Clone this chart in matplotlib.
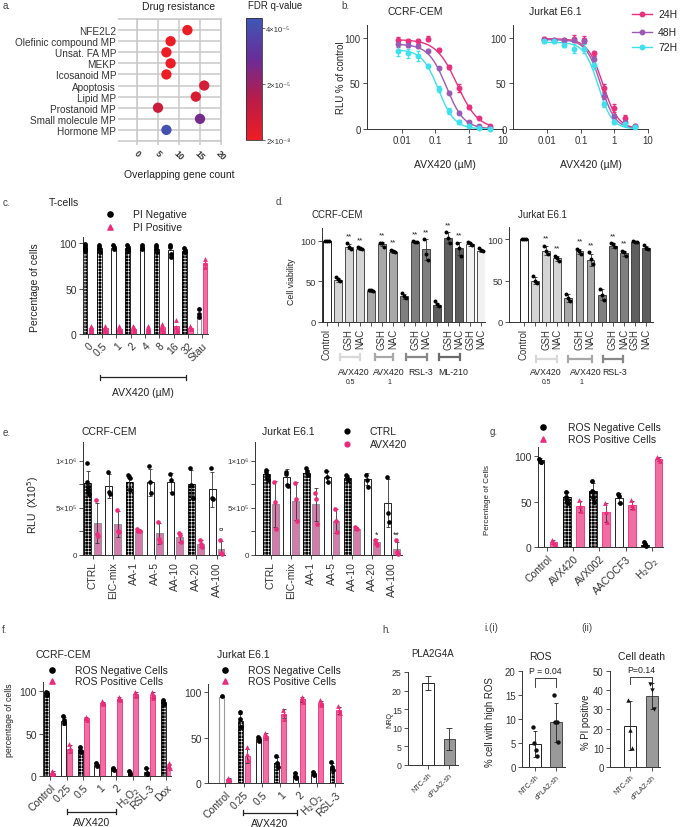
import numpy as np
import matplotlib
matplotlib.use('Agg')
import matplotlib.pyplot as plt
from matplotlib.colors import LinearSegmentedColormap, Normalize
from matplotlib.cm import ScalarMappable

plt.rcParams['font.family'] = ['Liberation Sans', 'DejaVu Sans']
plt.rcParams['hatch.linewidth'] = 0.4
plt.rcParams['axes.linewidth'] = 0.7
plt.rcParams['axes.edgecolor'] = '#333333'
plt.rcParams['xtick.color'] = '#333333'
plt.rcParams['ytick.color'] = '#333333'
plt.rcParams['text.color'] = '#222222'

PINK = '#ee2a7b'
PINK_FILL = '#ef6fa3'
MAUVE = '#d57bab'
FS = 1.15  # font scale

# ---------------- data ----------------
# a. enrichment
a_terms = ['NFE2L2', 'Olefinic compound MP', 'Unsat. FA MP', 'MEKP', 'Icosanoid MP',
           'Apoptosis', 'Lipid MP', 'Prostanoid MP', 'Small molecule MP', 'Hormone MP']
a_counts = [12, 8, 7, 8, 7, 16, 14, 5, 15, 7]
a_fdr = [2e-7, 3e-7, 3e-7, 3e-7, 3e-7, 7e-6, 6e-6, 9.5e-6, 2.7e-5, 4.1e-5]

# b. dose response
b_conc = [0.0078125, 0.015625, 0.03125, 0.0625, 0.125, 0.25, 0.5, 1, 2, 4]
b_series = ['24H', '48H', '72H']
b_colors = ['#e8307e', '#9b5bb5', '#3fe0ee']
b_cem = [[98, 97, 96, 99, 87, 68, 45, 24, 12, 3],
         [93, 92, 91, 86, 67, 40, 18, 8, 3, 1],
         [86, 83, 80, 69, 44, 19.5, 8, 3.7, 1, 0]]
b_cem_sd = [[3, 2, 3, 3, 2, 2, 4, 2, 1, 1],
            [3, 2, 2, 2, 1, 2, 2, 1, 1, 1],
            [6, 5, 6, 2, 3, 3, 2, 1, 1, 1]]
b_jur = [[99, 98, 98, 99, 98, 83, 45, 23, 12, 3.5],
         [98, 98, 98, 98, 97, 77, 36, 14, 8, 3],
         [96, 96, 92, 88, 88, 70, 27, 8, 5, 2]]
b_jur_sd = [[2, 1, 1, 4, 4, 3, 4, 4, 3, 1],
            [1, 1, 1, 2, 3, 3, 3, 2, 2, 1],
            [2, 2, 2, 5, 5, 4, 3, 2, 1, 1]]
# fitted 4PL parameters (top, IC50, hill)
b_cem_fit = [(98, 0.44, 1.4), (93, 0.21, 1.65), (87, 0.123, 1.8)]
b_jur_fit = [(99, 0.45, 1.9), (98, 0.39, 2.0), (95, 0.33, 2.1)]

# c. PI staining
c_labels = ['0', '0.5', '1', '2', '4', '8', '16', '32', 'Stau']
c_neg = [95, 94, 94, 94, 94, 93, 92, 91, 20]
c_pos = [7, 7, 6, 6, 6, 8, 9, 7, 78]
c_neg_pts = [[99, 97, 95, 93, 91], [98, 96, 93, 90], [98, 96, 93], [98, 96, 93, 91], [98, 96, 93],
             [98, 96, 93, 90], [98, 96, 88, 85], [94, 92, 90], [27, 22, 19]]
c_pos_pts = [[9, 7, 5, 3], [9, 7, 4, 3], [9, 6, 4, 3], [9, 7, 5, 3], [9, 6, 3],
             [11, 8, 5, 3], [15, 8, 5, 3], [9, 7, 5], [82, 78, 74]]
c_style = ['black', 'black', 'white', 'black', 'white', 'black', 'white', 'black', 'gray']

# d. rescue
d_cem_labels = ['Control', '', 'GSH', 'NAC', '', 'GSH', 'NAC', '', 'GSH', 'NAC', '', 'GSH', 'NAC', 'GSH', 'NAC']
d_cem = [100, 52, 93, 90, 38, 96, 87, 32, 99, 90, 21, 104, 91, 96, 88]
d_cem_pts = [[100, 100, 100], [56, 53, 51], [97, 93, 90], [92, 91, 90], [40, 39, 38], [98, 97, 93],
             [89, 88, 86], [36, 32, 30], [100, 99, 99], [102, 84, 77], [26, 22, 20], [111, 104, 98],
             [98, 91, 82], [99, 97, 95], [91, 89, 88]]
d_cem_col = ['white', '#d4d4d4', '#d4d4d4', '#d4d4d4', '#a8a8a8', '#a8a8a8', '#a8a8a8',
             '#7f7f7f', '#7f7f7f', '#7f7f7f', '#5e5e5e', '#5e5e5e', '#5e5e5e', '#f2f2f2', '#f2f2f2']
d_cem_star = [2, 3, 5, 6, 8, 9, 11, 12]
d_jur_labels = ['Control', '', 'GSH', 'NAC', '', 'GSH', 'NAC', '', 'GSH', 'NAC', 'GSH', 'NAC']
d_jur = [100, 50, 86, 77, 29, 85, 75, 33, 92, 83, 97, 89]
d_jur_pts = [[100, 100, 100], [55, 50, 47], [92, 85, 82], [80, 77, 74], [34, 29, 25], [88, 86, 82],
             [84, 76, 70], [40, 33, 27], [95, 94, 90], [86, 84, 80], [98, 97, 97], [93, 89, 88]]
d_jur_col = ['white', '#d4d4d4', '#d4d4d4', '#d4d4d4', '#a8a8a8', '#a8a8a8', '#a8a8a8',
             '#7f7f7f', '#7f7f7f', '#7f7f7f', '#5e5e5e', '#5e5e5e']
d_jur_star = [2, 3, 5, 6, 8, 9]

# e. RLU with AA
e_labels = ['CTRL', 'EIC-mix', 'AA-1', 'AA-5', 'AA-10', 'AA-20', 'AA-100']
e_cem_ctrl = [7.6e5, 7.3e5, 7.8e5, 7.7e5, 7.7e5, 7.5e5, 7.0e5]
e_cem_avx = [3.4e5, 3.3e5, 2.6e5, 2.3e5, 1.9e5, 1.2e5, 0.6e5]
e_cem_ctrl_pts = [[9.8e5, 7.8e5, 7.2e5, 6.8e5, 6.5e5], [8.8e5, 6.7e5, 6.5e5], [8.5e5, 8.3e5, 8.2e5, 6.9e5],
                  [9.4e5, 7.8e5, 6.6e5], [8.6e5, 8.0e5, 6.6e5], [9.2e5, 7.4e5, 6.1e5], [9.2e5, 6.1e5, 5.9e5]]
e_cem_avx_pts = [[5.8e5, 2.2e5, 2.0e5], [4.8e5, 2.5e5, 2.4e5], [2.8e5, 2.6e5, 2.5e5], [3.5e5, 1.7e5, 1.4e5],
                 [2.3e5, 2.1e5, 1.4e5], [1.6e5, 1.2e5, 0.9e5], [1.6e5, 0.2e5, 0.1e5]]
e_cem_style = ['black', 'white', 'black', 'white', 'white', 'black', 'white']
e_jur_ctrl = [8.6e5, 8.3e5, 8.7e5, 8.3e5, 8.2e5, 8.1e5, 5.5e5]
e_jur_avx = [5.4e5, 5.7e5, 5.4e5, 3.6e5, 2.8e5, 1.4e5, 0.6e5]
e_jur_ctrl_pts = [[9.0e5, 8.8e5, 8.5e5, 8.2e5, 8.0e5], [8.8e5, 8.6e5, 7.4e5, 7.3e5], [9.2e5, 8.9e5, 8.7e5, 8.5e5],
                  [8.9e5, 8.3e5, 7.7e5], [8.5e5, 8.3e5, 8.0e5], [8.5e5, 8.0e5, 7.2e5], [8.3e5, 4.5e5, 3.5e5]]
e_jur_avx_pts = [[7.7e5, 5.6e5, 2.8e5], [7.6e5, 5.9e5, 3.6e5], [6.6e5, 6.0e5, 3.3e5], [4.9e5, 3.6e5, 2.4e5],
                 [3.0e5, 2.8e5], [1.6e5, 1.3e5, 1.1e5], [1.6e5, 0.3e5, 0.1e5]]
e_jur_style = ['black', 'white', 'black', 'white', 'black', 'white', 'white']

# f. ROS with AVX420
f_cem_labels = ['Control', '0.25', '0.5', '1', '2', 'H$_2$O$_2$', 'RSL-3', 'Dox']
f_cem_neg = [98, 65, 31, 13, 8, 4, 5, 87]
f_cem_pos = [4, 32, 68, 86, 91, 96, 95, 12]
f_cem_neg_pts = [[99, 98, 97, 95], [71, 66, 62], [34, 31, 28], [15, 13, 12], [10, 8, 7], [6, 4, 2], [10, 4, 2], [89, 87, 85]]
f_cem_pos_pts = [[6, 4, 2], [38, 33, 29], [70, 68, 66], [88, 86, 85], [93, 91, 90], [99, 96, 94], [99, 95, 92], [15, 12, 10]]
f_cem_style = ['black', 'white', 'black', 'white', 'white', 'white', 'white', 'black']
f_jur_labels = ['Control', '0.25', '0.5', '1', '2', 'H$_2$O$_2$', 'RSL-3']
f_jur_neg = [95, 68, 48, 22, 8, 10, 17]
f_jur_pos = [4, 30, 52, 76, 92, 88, 80]
f_jur_neg_pts = [[96], [78, 70, 62], [51, 48, 46], [30, 22, 18], [11, 8, 6], [12, 10, 9], [23, 18, 14]]
f_jur_pos_pts = [[5, 3], [40, 32, 25], [55, 52, 49], [80, 76, 70], [95, 92, 89], [91, 88, 86], [85, 80, 77]]
f_jur_style = ['gray', 'black', 'white', 'black', 'white', 'white', 'black']

# g. ROS with inhibitors
g_labels = ['Control', 'AVX420', 'AVX002', 'AACOCF3', 'H$_2$O$_2$']
g_neg = [96, 55, 62, 54, 2]
g_pos = [5, 45, 38, 46, 97]
g_neg_pts = [[97, 95, 94, 93], [61, 55, 52, 50, 48], [73, 62, 60, 55, 50], [58, 56, 48], [5, 3, 1]]
g_pos_pts = [[8, 6, 4, 3], [52, 45, 40], [48, 38, 27], [52, 46, 43], [99, 97, 95]]
g_style = ['white', 'black', 'black', 'white', 'black']

# h / i. knockdown
hi_labels = ['NTC-sh', 'cPLA2-sh']
h_nrq = [22, 7]
h_sd = [1.8, 3.0]
i_ros = [4.8, 9.3]
i_ros_pts = [[8.3, 5.0, 3.6, 2.2], [15, 9.3, 9.3, 5.2]]
i_death = [21.5, 37]
i_death_pts = [[35, 19.5, 10], [43, 40, 30]]

# ---------------- figure ----------------
W, H = 685, 828
fig = plt.figure(figsize=(W / 100, H / 100), dpi=100)


def px_ax(x0, y0, x1, y1, **kw):
    return fig.add_axes([x0 / W, 1 - y1 / H, (x1 - x0) / W, (y1 - y0) / H], **kw)


def style(ax, size=6):
    ax.spines['top'].set_visible(False)
    ax.spines['right'].set_visible(False)
    ax.tick_params(length=3, width=0.6, labelsize=size * FS, pad=1.5)
    ax.patch.set_alpha(0)


def bar(ax, x, h, w, kind):
    if kind == 'black':
        ax.bar(x, h, w, color='black', edgecolor='white', hatch='+++++', linewidth=0, zorder=2)
        ax.bar(x, h, w, fill=False, edgecolor='black', linewidth=0.6, zorder=2)
    elif kind == 'white':
        ax.bar(x, h, w, color='white', edgecolor='#222222', linewidth=0.7, zorder=2)
    elif kind == 'gray':
        ax.bar(x, h, w, color='white', edgecolor='#9a9a9a', linewidth=0.8, zorder=2)
    elif kind == 'pink':
        ax.bar(x, h, w, color=PINK_FILL, edgecolor=PINK, linewidth=0.6, zorder=2)
    elif kind == 'mauve':
        ax.bar(x, h, w, color=MAUVE, edgecolor='#8a8a8a', linewidth=0.6, zorder=2)
    else:
        ax.bar(x, h, w, color=kind, edgecolor='#333333', linewidth=0.6, zorder=2)


def dots(ax, x, vals, color, marker='o', spread=0.05, s=10):
    n = len(vals)
    off = np.linspace(-spread, spread, n) if n > 1 else np.zeros(1)
    ax.scatter(x + off, vals, s=s, color=color, marker=marker, zorder=4, clip_on=False, linewidths=0)


def err(ax, x, h, vals, color='#333333'):
    sd = np.std(vals, ddof=1) if len(vals) > 1 else 0
    ax.errorbar([x], [h], yerr=[sd], fmt='none', ecolor=color, elinewidth=0.6,
                capsize=1.5, capthick=0.6, zorder=3)


def xlabels(ax, labels, size, rot):
    if rot == 90:
        ax.set_xticklabels(labels, rotation=90, fontsize=size * FS)
    else:
        ax.set_xticklabels(labels, rotation=rot, ha='right', rotation_mode='anchor', fontsize=size * FS)


ov = fig.add_axes([0, 0, 1, 1], zorder=20)
ov.set_xlim(0, W)
ov.set_ylim(H, 0)
ov.axis('off')
ov.patch.set_alpha(0)


def T(x, y, s, size=6.5, ha='center', va='center', **kw):
    ov.text(x, y, s, fontsize=size * FS, ha=ha, va=va, **kw)


def bracket(x0, x1, y, color='#222222', lw=1.0, cap=3):
    ov.plot([x0, x1], [y, y], color=color, lw=lw, solid_capstyle='butt')
    ov.plot([x0, x0], [y - cap, y + cap], color=color, lw=lw)
    ov.plot([x1, x1], [y - cap, y + cap], color=color, lw=lw)


# panel labels
for lab, x, y in [('a.', 3, 6), ('b.', 341, 6), ('c.', 3, 203), ('d.', 276, 202), ('e.', 3, 433),
                  ('g.', 490, 432), ('f.', 2, 630), ('h.', 382, 630), ('i.(i)', 484, 628), ('(ii)', 581, 628)]:
    T(x, y, lab, size=6.2, ha='left', color='#444444')

# ---- a ----
cmap = LinearSegmentedColormap.from_list('fdr', ['#ee1d25', '#b81c48', '#6a2c98', '#3d58b6'])
norm = Normalize(vmin=2e-8, vmax=4.36e-5)
ax = px_ax(137, 20, 221, 142)
ya = np.arange(len(a_terms))
ax.scatter(a_counts, ya, s=55, c=a_fdr, cmap=cmap, norm=norm, zorder=3, linewidths=0, clip_on=False)
ax.set_xlim(0, 20)
ax.set_ylim(10, -1)
ax.set_yticks(np.arange(-1, 11))
ax.set_yticklabels([''] + a_terms + [''], fontsize=6.3 * FS)
ax.set_xticks([0, 5, 10, 15, 20])
ax.set_xticklabels(['0', '5', '10', '15', '20'], rotation=-45, fontsize=5.5 * FS, fontweight='bold')
ax.grid(True, color='#c9c9c9', lw=1.1)
ax.set_axisbelow(True)
for sp in ax.spines.values():
    sp.set_color('#c9c9c9')
    sp.set_linewidth(1.1)
ax.tick_params(axis='y', length=14, width=1.1, color='#c9c9c9', pad=1)
ax.tick_params(axis='x', length=3, width=1.1, color='#c9c9c9', pad=2)
T(179, 7, 'Drug resistance', size=6.5)
T(179, 175, 'Overlapping gene count', size=6.5)

cax = px_ax(246, 19, 262, 141)
cb = fig.colorbar(ScalarMappable(norm=norm, cmap=cmap), cax=cax)
cb.set_ticks([2e-8, 2e-5, 4e-5])
cb.set_ticklabels(['2×10⁻⁸', '2×10⁻⁵', '4×10⁻⁵'])
cb.ax.tick_params(labelsize=4.8 * FS, length=2, width=0.5, pad=1)
cb.outline.set_linewidth(0.6)
T(275, 6, 'FDR q-value', size=6)

# ---- b ----
xfit = np.logspace(np.log10(b_conc[0]), np.log10(b_conc[-1]), 200)
for (x0, x1), vals, sds, fits, title, tx, lx in [((367, 503), b_cem, b_cem_sd, b_cem_fit, 'CCRF-CEM', 415, 445),
                                                  ((513, 648), b_jur, b_jur_sd, b_jur_fit, 'Jurkat E6.1', 555, 591)]:
    ax = px_ax(x0, 26, x1, 130)
    style(ax, 6.0)
    for k in range(3):
        top, ic, hill = fits[k]
        ax.plot(xfit, top / (1 + (xfit / ic) ** hill), color=b_colors[k], lw=1.0, zorder=2)
        ax.errorbar(b_conc, vals[k], yerr=sds[k], fmt='o', color=b_colors[k], ms=3.2,
                    elinewidth=0.8, capsize=1.5, zorder=3, clip_on=False)
    ax.set_xscale('log')
    ax.set_xlim(10 ** -3.02, 10)
    ax.set_ylim(0, 114)
    ax.set_yticks([0, 50, 100])
    ax.set_xticks([0.01, 0.1, 1, 10])
    ax.set_xticklabels(['0.01', '0.1', '1', '10'])
    ax.xaxis.set_minor_locator(matplotlib.ticker.NullLocator())
    T(tx, 12, title, size=6.5)
    T(lx, 165, 'AVX420 (µM)', size=6.5)
T(341, 78, 'RLU % of control', size=6.0, rotation=90)
for k, y in enumerate([15, 33, 48]):
    ov.plot([632, 652], [y, y], color=b_colors[k], lw=1.0)
    ov.plot([642], [y], 'o', color=b_colors[k], ms=3.2)
    T(658, y, b_series[k], size=6.5, ha='left')

# ---- c ----
ax = px_ax(83, 238, 208, 335)
style(ax, 6.5)
xc = np.arange(len(c_labels))
for i in xc:
    bar(ax, i - 0.21, c_neg[i], 0.32, c_style[i])
    bar(ax, i + 0.21, c_pos[i], 0.32, 'pink')
    dots(ax, i - 0.21, c_neg_pts[i], 'black', 'o', 0.03, 12)
    dots(ax, i + 0.21, c_pos_pts[i], PINK, '^', 0.03, 12)
ax.set_xlim(-0.35, 8.42)
ax.set_ylim(0, 106.6)
ax.set_yticks([0, 50, 100])
ax.set_xticks(xc)
xlabels(ax, c_labels, 6.5, 45)
T(35, 288, 'Percentage of cells', size=6.5, rotation=90)
T(64, 203, 'T-cells', size=6.5)
ov.scatter([110], [215], s=14, color='black', marker='o')
ov.scatter([110], [228], s=14, color=PINK, marker='^')
T(133, 215, 'PI Negative', size=6.5, ha='left')
T(133, 228, 'PI Positive', size=6.5, ha='left')
bracket(100, 186, 378, lw=0.9, cap=2.5)
T(143, 393, 'AVX420 (µM)', size=6.5)

# ---- d ----
for (x0, y0, x1), (xa, xb), labels, vals, pts, cols, stars, title, tx in [
        ((322, 229, 485), (-0.45, 14.36), d_cem_labels, d_cem, d_cem_pts, d_cem_col, d_cem_star, 'CCRF-CEM', 337),
        ((509, 228, 653), (-1.35, 11.63), d_jur_labels, d_jur, d_jur_pts, d_jur_col, d_jur_star, 'Jurkat E6.1', 542)]:
    ax = px_ax(x0, y0, x1, 323)
    style(ax, 5.8)
    xd = np.arange(len(vals))
    for i in xd:
        bar(ax, i, vals[i], 0.7, cols[i])
        err(ax, i, vals[i], pts[i])
        dots(ax, i, pts[i], 'black', 'o', 0.18, 8)
    for i in stars:
        ax.text(i, max(pts[i]) + 5, '**', ha='center', va='bottom', fontsize=5 * FS)
    ax.set_xlim(xa, xb)
    ax.set_ylim(0, 116 if x0 == 322 else 114.5)
    ax.set_yticks([0, 50, 100])
    ax.set_xticks(xd)
    xlabels(ax, labels, 6, 90)
    T(tx, 215, title, size=6)
T(292, 282, 'Cell viability', size=5.5, rotation=90)
for x0, x1, c in [(340, 360, '#d8d8d8'), (375, 393, '#a8a8a8'), (406, 427, '#888888'), (439, 460, '#6a6a6a')]:
    bracket(x0, x1, 358, color=c, lw=1.6, cap=3)
for x0, x1, c in [(536, 557, '#d8d8d8'), (568, 592, '#a8a8a8'), (603, 623, '#888888')]:
    bracket(x0, x1, 360, color=c, lw=1.6, cap=3)
for x, s in [(354, 'AVX420'), (389, 'AVX420'), (421, 'RSL-3'), (453, 'ML-210'),
             (546, 'AVX420'), (586, 'AVX420'), (615, 'RSL-3')]:
    T(x, 373, s, size=5.5)
for x, s in [(350, '0.5'), (389, '1'), (546, '0.5'), (581, '1')]:
    T(x, 383, s, size=4.3)

# ---- e ----
for (x0, x1), (xa, xb), ctrl, avx, cpts, apts, sty, title, tx in [
        ((83, 225), (-0.46, 6.4), e_cem_ctrl, e_cem_avx, e_cem_ctrl_pts, e_cem_avx_pts, e_cem_style, 'CCRF-CEM', 109),
        ((255, 402), (-0.79, 6.49), e_jur_ctrl, e_jur_avx, e_jur_ctrl_pts, e_jur_avx_pts, e_jur_style, 'Jurkat E6.1', 288)]:
    ax = px_ax(x0, 443, x1, 556)
    style(ax, 6.5)
    xe = np.arange(len(e_labels))
    for i in xe:
        bar(ax, i - 0.22, ctrl[i], 0.34, sty[i])
        bar(ax, i + 0.22, avx[i], 0.34, 'mauve')
        err(ax, i - 0.22, ctrl[i], cpts[i])
        err(ax, i + 0.22, avx[i], apts[i])
        dots(ax, i - 0.22, cpts[i], 'black', 'o', 0.05, 11)
        dots(ax, i + 0.22, apts[i], PINK, 'o', 0.05, 11)
    ax.set_xlim(xa, xb)
    ax.set_ylim(0, 1.2e6)
    ax.set_yticks([0, 2.5e5, 5e5, 7.5e5, 1e6])
    ax.set_yticklabels(['0', '', '5×10⁵', '', '1×10⁶'], fontsize=5 * FS)
    ax.set_xticks(xe)
    xlabels(ax, e_labels, 6.5, 90)
    T(tx, 432, title, size=6.5)
    if x0 == 83:
        ax.text(6.22, 2.45e5, '¤', ha='center', va='bottom', fontsize=5 * FS)
    else:
        ax.text(5.22, 1.75e5, '*', ha='center', va='bottom', fontsize=5.5 * FS)
        ax.text(6.22, 1.75e5, '**', ha='center', va='bottom', fontsize=5.5 * FS)
T(33, 505, 'RLU  (X10$^5$)', size=6.5, rotation=90)
ov.scatter([347], [432], s=12, color='black')
ov.scatter([347], [445], s=12, color=PINK)
T(370, 432, 'CTRL', size=6.5, ha='left')
T(370, 445, 'AVX420', size=6.5, ha='left')

# ---- g ----
ax = px_ax(538, 448, 663, 548)
style(ax, 6.5)
xg = np.arange(len(g_labels))
for i in xg:
    bar(ax, i - 0.25, g_neg[i], 0.3, g_style[i])
    bar(ax, i + 0.25, g_pos[i], 0.3, 'pink')
    err(ax, i - 0.25, g_neg[i], g_neg_pts[i])
    err(ax, i + 0.25, g_pos[i], g_pos_pts[i])
    dots(ax, i - 0.25, g_neg_pts[i], 'black', 'o', 0.04, 12)
    dots(ax, i + 0.25, g_pos_pts[i], PINK, '^', 0.04, 12)
ax.set_xlim(-0.34, 4.42)
ax.set_ylim(0, 110)
ax.set_yticks([0, 50, 100])
ax.set_xticks(xg)
xlabels(ax, g_labels, 6.5, 45)
T(488, 500, 'Percentage of Cells', size=5, rotation=90)
ov.scatter([543], [428], s=14, color='black')
ov.scatter([543], [440], s=14, color=PINK, marker='^')
T(568, 428, 'ROS Negative Cells', size=6.5, ha='left')
T(568, 440, 'ROS Positive Cells', size=6.5, ha='left')

# ---- f ----
for (x0, y0, x1, y1), (xa, xb), ylim, labels, neg, pos, npts, ppts, sty, off, w, title, tx, lgx in [
        ((43, 683, 171, 777), (-0.42, 7.29), 110.6, f_cem_labels, f_cem_neg, f_cem_pos, f_cem_neg_pts,
         f_cem_pos_pts, f_cem_style, 0.18, 0.3, 'CCRF-CEM', 63, 52),
        ((208, 685, 343, 784), (-0.95, 6.41), 108.8, f_jur_labels, f_jur_neg, f_jur_pos, f_jur_neg_pts,
         f_jur_pos_pts, f_jur_style, 0.19, 0.27, 'Jurkat E6.1', 243, 225)]:
    ax = px_ax(x0, y0, x1, y1)
    style(ax, 6.5)
    xf = np.arange(len(labels))
    for i in xf:
        bar(ax, i - off, neg[i], w, sty[i])
        bar(ax, i + off, pos[i], w, 'pink')
        err(ax, i - off, neg[i], npts[i])
        err(ax, i + off, pos[i], ppts[i])
        dots(ax, i - off, npts[i], 'black', 'o', 0.03, 12)
        dots(ax, i + off, ppts[i], PINK, '^', 0.03, 12)
    ax.set_xlim(xa, xb)
    ax.set_ylim(0, ylim)
    ax.set_yticks([0, 50, 100])
    ax.set_xticks(xf)
    xlabels(ax, labels, 6.5, 45)
    T(tx, 655, title, size=6.5)
    ov.scatter([lgx], [671], s=14, color='black')
    ov.scatter([lgx], [682], s=14, color=PINK, marker='^')
    T(lgx + 23, 671, 'ROS Negative Cells', size=6.5, ha='left')
    T(lgx + 23, 682, 'ROS Positive Cells', size=6.5, ha='left')
T(10, 720, 'percentage of cells', size=5.5, rotation=90)
bracket(67, 116, 813, lw=0.9, cap=2.5)
T(92, 823, 'AVX420', size=6.5)
bracket(243, 297, 814, lw=0.9, cap=2.5)
T(270, 824, 'AVX420', size=6.5)

# ---- h ----
ax = px_ax(408, 673, 458, 766)
style(ax, 5.5)
xh = np.arange(2)
bar(ax, 0, h_nrq[0], 0.55, 'white')
bar(ax, 1, h_nrq[1], 0.55, '#9a9a9a')
ax.errorbar(xh, h_nrq, yerr=h_sd, fmt='none', ecolor='#222222', elinewidth=0.6, capsize=2, capthick=0.6, zorder=3)
ax.set_xlim(-0.95, 1.4)
ax.set_ylim(0, 25)
ax.set_yticks([0, 5, 10, 15, 20, 25])
ax.set_xticks(xh)
xlabels(ax, hi_labels, 4.5, 45)
T(433, 654, 'PLA2G4A', size=6)
T(390, 720, 'NRQ', size=4.5, rotation=90)

# ---- i ----
for (x0, x1), (xa, xb), vals, pts, ymax, yt, mk, title, tx, ylab, ylx, ptxt, btop, bend in [
        ((522, 565), (-0.62, 1.43), i_ros, i_ros_pts, 20, [0, 5, 10, 15, 20], ['o', 'o'], 'ROS', 540,
         '% cell with high ROS', 490, 'P = 0.04', 18.5, 16.7),
        ((610, 660), (-0.91, 1.36), i_death, i_death_pts, 50, [0, 10, 20, 30, 40, 50], ['^', 'v'], 'Cell death', 642,
         '% PI positive', 586, 'P=0.14', 46.9, 43.2)]:
    ax = px_ax(x0, 672, x1, 768)
    style(ax, 6)
    for i in range(2):
        bar(ax, i, vals[i], 0.58, 'white' if i == 0 else '#9a9a9a')
        err(ax, i, vals[i], pts[i], '#222222')
        dots(ax, i, pts[i], '#111111', mk[i], 0.08, 10)
    ax.plot([0, 0, 1, 1], [bend, btop, btop, bend], color='#222222', lw=0.6, clip_on=False)
    ax.text(0.5, btop + ymax * 0.03, ptxt, ha='center', va='bottom', fontsize=5.5 * FS)
    ax.set_xlim(xa, xb)
    ax.set_ylim(0, ymax)
    ax.set_yticks(yt)
    ax.set_xticks([0, 1])
    xlabels(ax, hi_labels, 4.5, 45)
    T(tx, 657, title, size=6.5)
    T(ylx, 722, ylab, size=6, rotation=90)

fig.savefig('out.png', dpi=100)
